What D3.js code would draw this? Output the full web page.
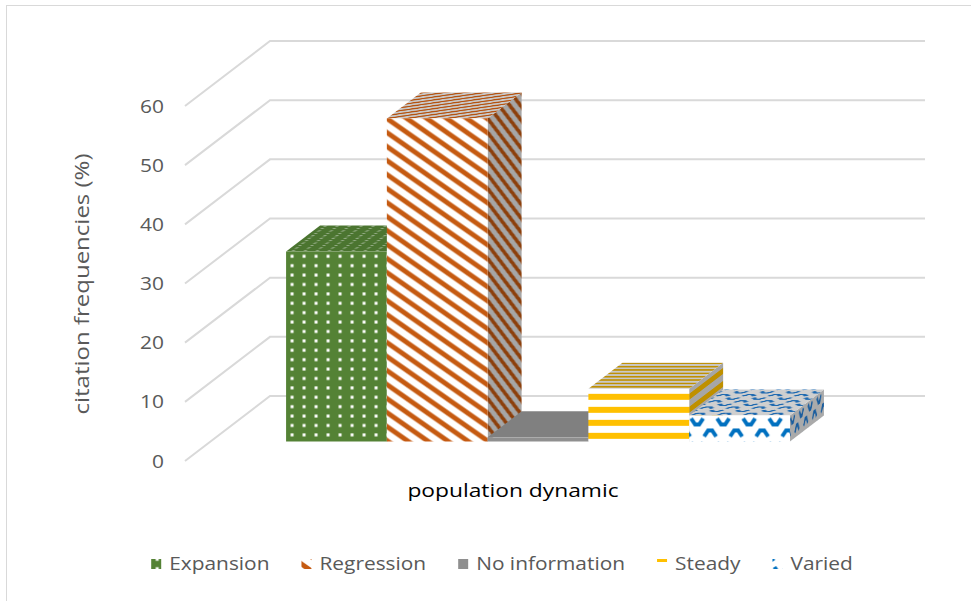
<!DOCTYPE html>
<html>
<head>
<meta charset="utf-8">
<script src="https://cdn.jsdelivr.net/npm/d3@7"></script>
<style>
  body { margin: 0; background: #fff; }
  text { font-family: "Open Sans", sans-serif; }
</style>
</head>
<body>
<div id="chart"></div>
<script>
// data
var series = ["Expansion", "Regression", "No information", "Steady", "Varied"];
var values = [32.1, 54.6, 0.7, 8.9, 4.4];
var yTicks = [0, 10, 20, 30, 40, 50, 60];
var xTitle = "population dynamic";
var yTitle = "citation frequencies (%)";

var width = 971, height = 601;

// face looks: pattern kind + colours for front / top / side
var styles = [
  {kind: 'dots',  front: ['#548235', '#ffffff'], top: ['#4b7530', '#b9c8b0'], side: ['#3f6428', '#a0b090']},
  {kind: 'diag',  front: ['#ffffff', '#c55a11'], top: ['#c9c9c9', '#b5520f'], side: ['#a6a6a6', '#8c3f0b']},
  {kind: 'solid', front: ['#8f8f8f', null],      top: ['#808080', null],      side: ['#7a7a7a', null]},
  {kind: 'horiz', front: ['#ffffff', '#ffc000'], top: ['#c9c9c9', '#bf9000'], side: ['#a6a6a6', '#bf9000']},
  {kind: 'divot', front: ['#ffffff', '#0070c0'], top: ['#cfcfcf', '#1c68b0'], side: ['#aaaaaa', '#1a5d9e']}
];

var svg = d3.select('#chart').append('svg')
  .attr('width', width)
  .attr('height', height);

var defs = svg.append('defs');

function addPattern(id, kind, bg, fg) {
  var p = defs.append('pattern').attr('id', id).attr('patternUnits', 'userSpaceOnUse');
  if (kind == 'dots') {
    p.attr('width', 12).attr('height', 9.4);
    p.append('rect').attr('width', 12).attr('height', 9.4).attr('fill', bg);
    p.append('rect').attr('x', 4.5).attr('y', 3.2).attr('width', 3).attr('height', 3).attr('fill', fg);
  } else if (kind == 'diag') {
    //stretched 45deg stripes -> about 35deg on screen
    p.attr('width', 14).attr('height', 14).attr('patternTransform', 'scale(1.43,1)');
    p.append('rect').attr('width', 14).attr('height', 14).attr('fill', bg);
    p.append('path')
      .attr('d', 'M-3,-3L17,17M-4,10L4,18M10,-4L18,4')
      .attr('stroke', fg).attr('stroke-width', 4.2);
  } else if (kind == 'horiz') {
    p.attr('width', 10).attr('height', 13);
    p.append('rect').attr('width', 10).attr('height', 13).attr('fill', bg);
    p.append('rect').attr('y', 5).attr('width', 10).attr('height', 6).attr('fill', fg);
  } else if (kind == 'divot') {
    p.attr('width', 26).attr('height', 24);
    p.append('rect').attr('width', 26).attr('height', 24).attr('fill', bg);
    p.append('path')
      .attr('d', 'M2,3L6,9L10,9L14,3M15,21L19,15L23,15L27,21M-11,21L-7,15L-3,15L1,21')
      .attr('fill', 'none').attr('stroke', fg).attr('stroke-width', 4)
      .attr('stroke-linejoin', 'miter');
  } else {
    p.attr('width', 10).attr('height', 10);
    p.append('rect').attr('width', 10).attr('height', 10).attr('fill', bg);
  }
}

styles.forEach(function(s, i) {
  ['front', 'top', 'side'].forEach(function(f) {
    addPattern('p' + i + f, s.kind, s[f][0], s[f][1]);
  });
});

// chart border (only top/left show inside the window)
svg.append('rect')
  .attr('x', 6.5).attr('y', 5.5)
  .attr('width', 1000).attr('height', 1000)
  .attr('fill', 'none').attr('stroke', '#d9d9d9');

// oblique 3d box: floor front edge and depth vector
var frontX = [185, 840];
var depth = {dx: 85, dy: -65};
var t0 = 0.3, t1 = 0.7;   // bars sit between these depth fractions

var y = d3.scaleLinear().domain([0, 60]).range([461, 106]);
var x = d3.scaleBand().domain(series).range(frontX).paddingInner(0).paddingOuter(0.75);

// gridlines: side wall diagonal + back wall line
svg.append('g').selectAll('path')
  .data(yTicks)
  .enter().append('path')
  .attr('d', function(v) {
    return 'M' + frontX[0] + ',' + y(v) +
      'L' + (frontX[0] + depth.dx) + ',' + (y(v) + depth.dy) +
      'L' + (frontX[1] + depth.dx) + ',' + (y(v) + depth.dy);
  })
  .attr('fill', 'none')
  .attr('stroke', '#d9d9d9')
  .attr('stroke-width', 2);

svg.append('g').selectAll('text')
  .data(yTicks)
  .enter().append('text')
  .attr('transform', function(v) { return 'translate(164,' + y(v) + ') scale(1.1,1)'; })
  .attr('dy', '.35em')
  .attr('text-anchor', 'end')
  .attr('font-size', 19)
  .attr('fill', '#595959')
  .text(function(v) { return v; });

// bars
var bw = x.bandwidth();
var ddx = (t1 - t0) * depth.dx, ddy = (t1 - t0) * depth.dy;

var bar = svg.append('g').selectAll('g')
  .data(series.map(function(s, i) { return {name: s, value: values[i], i: i}; }))
  .enter().append('g');

bar.each(function(d) {
  var g = d3.select(this);
  var xl = x(d.name) + t0 * depth.dx;
  var yt = y(d.value) + t0 * depth.dy;
  var h = (y(0) - y(d.value));
  // right side face
  g.append('rect')
    .attr('width', bw).attr('height', h)
    .attr('transform', 'matrix(' + [ddx / bw, ddy / bw, 0, 1, xl + bw, yt].join(',') + ')')
    .attr('fill', 'url(#p' + d.i + 'side)');
  // top face
  g.append('rect')
    .attr('width', bw).attr('height', bw)
    .attr('transform', 'matrix(' + [1, 0, ddx / bw, ddy / bw, xl, yt].join(',') + ')')
    .attr('fill', 'url(#p' + d.i + 'top)');
  // front face
  g.append('rect')
    .attr('width', bw).attr('height', h)
    .attr('transform', 'translate(' + xl + ',' + yt + ')')
    .attr('fill', 'url(#p' + d.i + 'front)');
});

// axis titles
svg.append('text')
  .attr('transform', 'translate(82,284) rotate(-90) scale(1.2,1)')
  .attr('dy', '.35em')
  .attr('text-anchor', 'middle')
  .attr('font-size', 20)
  .attr('fill', '#595959')
  .text(yTitle);

svg.append('text')
  .attr('transform', 'translate(513,497) scale(1.2,1)')
  .attr('text-anchor', 'middle')
  .attr('font-size', 19)
  .attr('fill', '#000')
  .text(xTitle);

// legend
var legend = svg.append('g');
var items = legend.selectAll('g')
  .data(series)
  .enter().append('g');

items.append('rect')
  .attr('width', 10).attr('height', 10)
  .attr('y', -5)
  .attr('fill', function(d, i) { return 'url(#p' + i + 'front)'; });

var sx = 1.16, textOff = 18, gap = 32;
items.append('text')
  .attr('transform', 'translate(' + textOff + ',0) scale(' + sx + ',1)')
  .attr('dy', '.35em')
  .attr('font-size', 18)
  .attr('fill', '#595959')
  .text(function(d) { return d; });

var pos = 0;
items.each(function() {
  var w = textOff + sx * d3.select(this).select('text').node().getComputedTextLength();
  d3.select(this).attr('data-x', pos);
  pos += w + gap;
});
var total = pos - gap;
var lx = 502 - total / 2;
items.attr('transform', function() {
  return 'translate(' + (lx + (+d3.select(this).attr('data-x'))) + ',564)';
});
</script>
</body>
</html>
